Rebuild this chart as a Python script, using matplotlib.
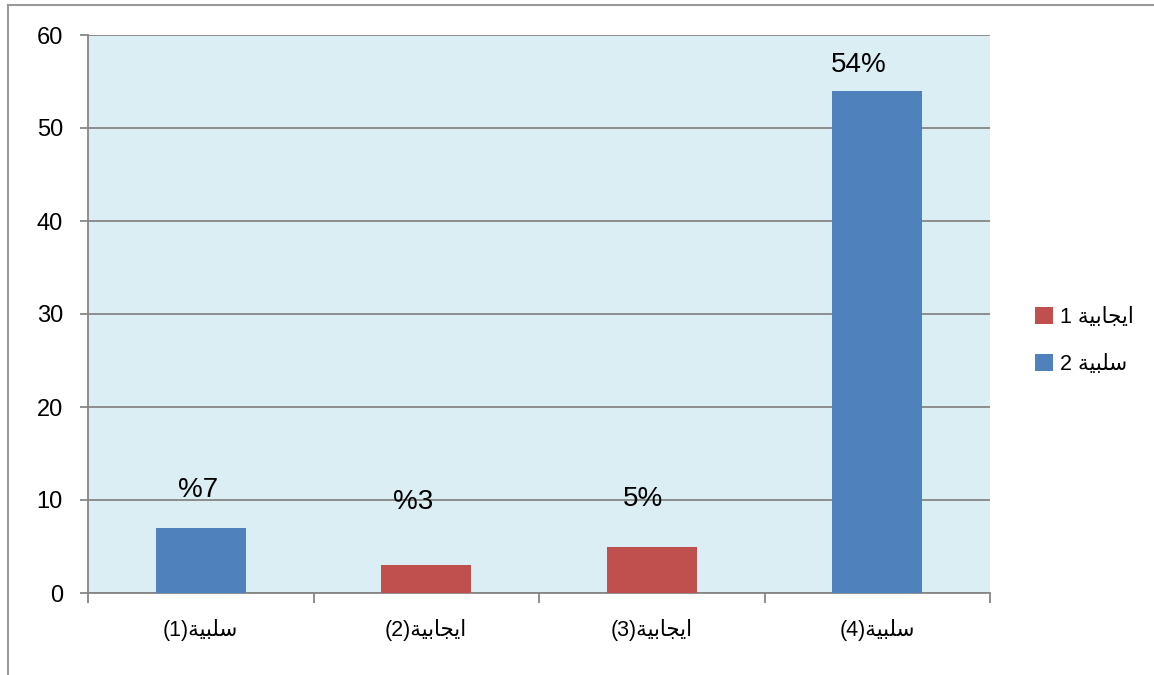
import matplotlib
matplotlib.use("Agg")
import matplotlib.pyplot as plt
from matplotlib.lines import Line2D
from matplotlib.patches import Patch

plt.rcParams['font.family'] = ['Liberation Sans', 'DejaVu Sans']

# Arabic words written in visual (left-to-right) order with contextual presentation forms
NEG = "\uFE94\uFEF4\uFE92\uFEE0\uFEB3"          # سلبية
POS = "\uFE94\uFEF4\uFE91\uFE8E\uFEA0\uFEF3\uFE8D"  # ايجابية

categories = ["(1)" + NEG, "(2)" + POS, "(3)" + POS, "(4)" + NEG]
positive_values = [0, 3, 5, 0]
negative_values = [7, 0, 0, 54]
value_labels = ["%7", "%3", "5%", "54%"]
label_heights = [11.1, 9.8, 10.1, 56.8]
label_offsets = [-0.01, -0.06, -0.04, -0.08]
legend_labels = ["1 " + POS, "2 " + NEG]

POS_COLOR = "#C0504D"
NEG_COLOR = "#4F81BD"
GRID = "#868686"

fig = plt.figure(figsize=(11.54, 6.75), dpi=100)
ax = fig.add_axes([88 / 1154, 82 / 675, 902 / 1154, 558 / 675])
ax.set_facecolor("#DBEEF4")

x = list(range(len(categories)))
for i in x:
    if positive_values[i]:
        ax.bar(i, positive_values[i], width=0.4, color=POS_COLOR, zorder=3)
    if negative_values[i]:
        ax.bar(i, negative_values[i], width=0.4, color=NEG_COLOR, zorder=3)

for i, (txt, h, dx) in enumerate(zip(value_labels, label_heights, label_offsets)):
    ax.text(i + dx, h, txt, ha="center", va="center", fontsize=20, color="black", zorder=4)

ax.set_xlim(-0.5, 3.5)
ax.set_ylim(0, 60)
ax.set_yticks(range(0, 61, 10))
ax.yaxis.grid(True, color=GRID, linewidth=1.3, zorder=1)
ax.set_axisbelow(True)

ax.set_xticks([-0.5, 0.5, 1.5, 2.5, 3.5])
ax.set_xticklabels([])
ax.set_xticks(x, minor=True)
ax.set_xticklabels(categories, minor=True, fontsize=15.5)
ax.tick_params(axis="x", which="minor", length=0, pad=19)
ax.tick_params(axis="x", which="major", length=7, width=1.3, color=GRID, direction="out")
ax.tick_params(axis="y", length=6, width=1.3, color=GRID, direction="out", labelsize=17, pad=12)

for side in ["top", "right"]:
    ax.spines[side].set_visible(False)
for side in ["left", "bottom"]:
    ax.spines[side].set_color(GRID)
    ax.spines[side].set_linewidth(1.3)

handles = [Patch(facecolor=POS_COLOR), Patch(facecolor=NEG_COLOR)]
fig.legend(handles, legend_labels, loc="center left", bbox_to_anchor=(1016 / 1154, 1 - 341 / 675),
           frameon=False, fontsize=15.5, handlelength=0.8, handleheight=0.8,
           handletextpad=0.35, labelspacing=1.2)

# chart frame
fig.add_artist(Line2D([7.5 / 1154, 7.5 / 1154], [0, 1 - 5 / 675], color="#999999", linewidth=1.5,
                      transform=fig.transFigure))
fig.add_artist(Line2D([7.5 / 1154, 1], [1 - 5 / 675, 1 - 5 / 675], color="#999999", linewidth=1.5,
                      transform=fig.transFigure))

fig.savefig("out.png", dpi=100)
